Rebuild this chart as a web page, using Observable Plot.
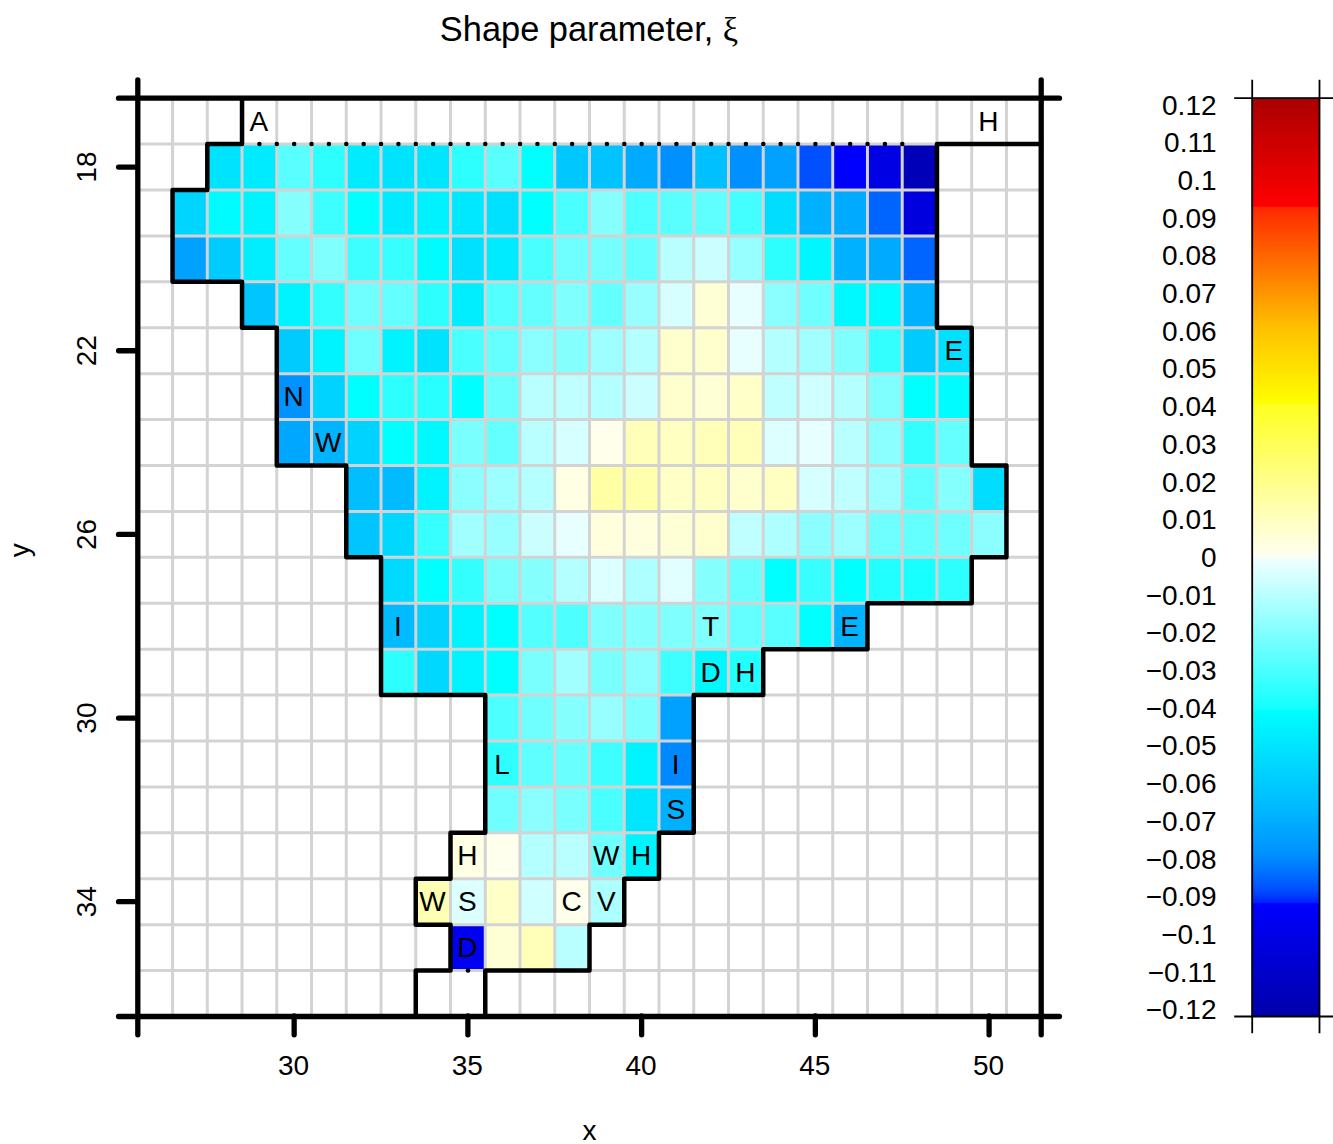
<!DOCTYPE html>
<html><head><meta charset="utf-8">
<script src="https://cdn.jsdelivr.net/npm/d3@7"></script>
<script src="https://cdn.jsdelivr.net/npm/@observablehq/plot@0.6"></script>
<style>
html,body{margin:0;padding:0;background:#fff;width:1333px;height:1144px;overflow:hidden}
#wrap{position:relative;width:1333px;height:1144px;font-family:"Liberation Sans",sans-serif}
#title{position:absolute;z-index:2;left:137px;width:904px;top:10px;text-align:center;font-size:34.4px;line-height:38px;color:#000}
#title span{font-family:"Liberation Serif",serif}
#main,#bar{position:absolute;top:0}
#main{left:0}#bar{left:1100px}
</style></head><body>
<div id="wrap"><div id="title">Shape parameter, <span>ξ</span></div><div id="main"></div><div id="bar"></div></div>
<script>
const rowY=[18,19,20,21,22,23,24,25,26,27,28,29,30,31,32,33,34,35];
const rowFirstX=[28,27,27,29,30,30,30,32,32,33,33,33,36,36,36,35,34,35];
const row18=[-.05,-.047,-.027,-.035,-.047,-.05,-.049,-.035,-.027,-.04,-.06,-.062,-.07,-.078,-.063,-.078,-.073,-.087,-.091,-.1,-.115];
const row19=[-.055,-.041,-.044,-.019,-.032,-.04,-.047,-.045,-.048,-.051,-.04,-.03,-.019,-.029,-.027,-.026,-.031,-.052,-.068,-.07,-.084,-.102];
const row20=[-.073,-.059,-.046,-.025,-.02,-.032,-.033,-.041,-.051,-.047,-.03,-.023,-.022,-.025,-.01,-.007,-.016,-.035,-.043,-.068,-.07,-.084];
const row21=[-.061,-.044,-.034,-.023,-.025,-.035,-.046,-.028,-.025,-.02,-.025,-.016,-.005,.0053,-.002,-.018,-.023,-.042,-.041,-.068];
const row22=[-.059,-.044,-.023,-.044,-.05,-.03,-.025,-.018,-.019,-.015,-.011,.0067,.0067,-.002,-.011,-.014,-.02,-.034,-.059,-.051];
const row23=[-.077,-.056,-.04,-.035,-.036,-.04,-.024,-.01,-.009,-.011,-.007,.0067,.0053,.008,-.009,-.006,-.011,-.02,-.04,-.041];
const row24=[-.071,-.067,-.056,-.04,-.042,-.021,-.025,-.01,-.005,.0013,.0107,.0093,.0107,.0107,-.004,-.002,-.01,-.018,-.034,-.025];
const row25=[-.064,-.065,-.044,-.018,-.015,-.011,.0027,.0147,.0133,.008,.0093,.0067,.0093,-.005,-.009,-.015,-.026,-.019,-.052];
const row26=[-.061,-.054,-.033,-.014,-.016,-.007,-.002,.004,.004,.0053,.0067,-.009,-.012,-.018,-.015,-.023,-.025,-.023,-.018];
const row27=[-.053,-.04,-.034,-.021,-.019,-.011,-.004,-.012,-.003,-.019,-.024,-.04,-.033,-.04,-.037,-.039,-.035];
const row28=[-.065,-.056,-.044,-.04,-.028,-.029,-.02,-.019,-.02,-.02,-.025,-.027,-.04,-.067];
const row29=[-.035,-.054,-.044,-.04,-.021,-.014,-.021,-.018,-.032,-.042,-.037];
const row30=[-.029,-.023,-.019,-.016,-.02,-.073];
const row31=[-.035,-.026,-.024,-.032,-.044,-.079];
const row32=[-.023,-.018,-.021,-.03,-.049,-.068];
const row33=[.0027,.0007,-.011,-.01,-.023,-.044];
const row34=[.012,-.004,.008,-.006,.0013,-.012];
const row35=[-.095,.0053,.0107,-.01];
const rows=[row18,row19,row20,row21,row22,row23,row24,row25,row26,row27,row28,row29,row30,row31,row32,row33,row34,row35];

const stationLabels=[["A",29,17],["H",50,17],["E",49,22],["N",30,23],["W",31,24],["I",33,28],["T",42,28],["E",46,28],["D",42,29],["H",43,29],["L",36,31],["I",41,31],["S",41,32],["H",35,33],["W",39,33],["H",40,33],["W",34,34],["S",35,34],["C",38,34],["V",39,34],["D",35,35]];
const borderA=[[28.5,16.5],[28.5,17.5],[27.5,17.5],[27.5,18.5],[26.5,18.5],[26.5,20.5],[28.5,20.5],[28.5,21.5],[29.5,21.5],[29.5,24.5],[31.5,24.5],[31.5,26.5],[32.5,26.5],[32.5,29.5],[35.5,29.5],[35.5,32.5],[34.5,32.5],[34.5,33.5],[33.5,33.5],[33.5,34.5],[34.5,34.5],[34.5,35.5],[33.5,35.5],[33.5,36.5]];
const borderB=[[35.5,36.5],[35.5,35.5],[38.5,35.5],[38.5,34.5],[39.5,34.5],[39.5,33.5],[40.5,33.5],[40.5,32.5],[41.5,32.5],[41.5,29.5],[43.5,29.5],[43.5,28.5],[46.5,28.5],[46.5,27.5],[49.5,27.5],[49.5,26.5],[50.5,26.5],[50.5,24.5],[49.5,24.5],[49.5,21.5],[48.5,21.5],[48.5,17.5],[51.5,17.5]];
const dottedTop=[[29,17.5],[48,17.5]];
const dottedBottom=[[35,35.5],[35.005,35.5]];
const xTicks=[30,35,40,45,50];
const yTicks=[18,22,26,30,34];
const xLim=[25.5,51.5], yLim=[16.5,36.5];
const xFrameExt=[24.96,52.04], yFrameExt=[16.11,36.91];
const gridX=d3.range(26.5,51,1), gridY=d3.range(17.5,36,1);
const legendTicks=[.12,.11,.1,.09,.08,.07,.06,.05,.04,.03,.02,.01,0,-.01,-.02,-.03,-.04,-.05,-.06,-.07,-.08,-.09,-.1,-.11,-.12];
const legendLim=[-.12,.12];

const colorDomain=[-.12,-.0905,-.09049,-.087,-.078,-.065,-.052,-.04,-.0399,-.02,-.0005,0.0003,.03995,.04,.06,.08,.0914,.0915,.12];
const colorRange=["#0000aa","#0000ff","#0020ff","#0050ff","#0090ff","#00bbff","#00ddff","#00ffff","#12ffff","#80ffff","#f0ffff","#fffff0","#ffff20","#ffff00","#ffc000","#ff6000","#ff2800","#ff0000","#aa0000"];
const colorScale={type:"linear",domain:colorDomain,range:colorRange,interpolate:"rgb",clamp:true};

const cells=rows.flatMap((vals,i)=>vals.map((v,j)=>({x:rowFirstX[i]+j,y:rowY[i],v})));
const labels=stationLabels.map(([t,x,y])=>({t,x,y}));
const font="Liberation Sans";

const main=Plot.plot({
  width:1100,height:1144,
  marginLeft:137.3,marginRight:1100-1040.7,marginTop:97.7,marginBottom:1144-1016,
  style:{fontFamily:font,background:"transparent",color:"#000"},
  x:{domain:xLim,range:[137.3,1040.7],axis:null},
  y:{domain:yLim,range:[97.7,1016],axis:null},
  color:colorScale,
  marks:[
    Plot.rect(cells,{x1:d=>d.x-.5,x2:d=>d.x+.5,y1:d=>d.y-.5,y2:d=>d.y+.5,fill:"v"}),
    Plot.ruleX(gridX,{y1:yLim[0],y2:yLim[1],stroke:"#d3d3d3",strokeWidth:3}),
    Plot.ruleY(gridY,{x1:xLim[0],x2:xLim[1],stroke:"#d3d3d3",strokeWidth:3}),
    Plot.text(labels,{x:"x",y:"y",text:"t",fontSize:28,fill:"#000",fontFamily:font,dx:-.6,dy:.6}),
    Plot.line(borderA,{stroke:"#000",strokeWidth:4.5,strokeLinejoin:"round",strokeLinecap:"round"}),
    Plot.line(borderB,{stroke:"#000",strokeWidth:4.5,strokeLinejoin:"round",strokeLinecap:"round"}),
    Plot.line(dottedTop,{stroke:"#000",strokeWidth:4.5,strokeLinecap:"round",strokeDasharray:"0 17.375"}),
    Plot.line(dottedBottom,{stroke:"#000",strokeWidth:4.5,strokeLinecap:"round"}),
    Plot.ruleX(xLim,{y1:yFrameExt[0],y2:yFrameExt[1],stroke:"#000",strokeWidth:5.3,strokeLinecap:"round"}),
    Plot.ruleY(yLim,{x1:xFrameExt[0],x2:xFrameExt[1],stroke:"#000",strokeWidth:5.3,strokeLinecap:"round"}),
    Plot.ruleX(xTicks,{y1:yLim[1],y2:yFrameExt[1],stroke:"#000",strokeWidth:5.3,strokeLinecap:"round"}),
    Plot.ruleY(yTicks,{x1:xFrameExt[0],x2:xLim[0],stroke:"#000",strokeWidth:5.3,strokeLinecap:"round"}),
    Plot.text(xTicks,{x:d=>d,y:yLim[1],text:d=>String(d),fontSize:28,fill:"#000",fontFamily:font,dx:-.6,dy:50}),
    Plot.text(yTicks,{y:d=>d,x:xLim[0],text:d=>String(d),fontSize:28,fill:"#000",fontFamily:font,rotate:-90,dx:-50.5}),
    Plot.text(["x"],{frameAnchor:"bottom",text:d=>d,fontSize:28,fill:"#000",fontFamily:font,dy:123}),
    Plot.text(["y"],{frameAnchor:"left",text:d=>d,fontSize:28,fill:"#000",fontFamily:font,rotate:-90,dx:-118})
  ]
});
document.getElementById("main").appendChild(main);

const legendValues=d3.range(-.12,.12,.0005);
const legendSpread=904.5/918;
const bar=Plot.plot({
  width:233,height:1144,
  marginLeft:151.7,marginRight:14,marginTop:97.7,marginBottom:1144-1016,
  style:{fontFamily:font,background:"transparent",color:"#000"},
  x:{domain:[0,1],range:[151.7,219],axis:null},
  y:{domain:legendLim,range:[1016,97.7],axis:null},
  color:colorScale,
  marks:[
    Plot.rect(legendValues,{x1:0,x2:1,y1:d=>d,y2:d=>Math.min(d+.00075,.12),fill:d=>d+.00025}),
    Plot.ruleX([0,1],{y1:-.1245,y2:.1247,stroke:"#000",strokeWidth:1.8}),
    Plot.ruleY(legendLim,{x1:-.26,x2:1.21,stroke:"#000",strokeWidth:1.8}),
    Plot.text(legendTicks,{x:-.53,y:d=>d*legendSpread,dy:.6,text:d=>{const s=d3.format("")(Math.abs(d));return (d<0?"\u2212":"")+s;},textAnchor:"end",fontSize:28,fill:"#000",fontFamily:font})
  ]
});
document.getElementById("bar").appendChild(bar);
</script>
</body></html>
